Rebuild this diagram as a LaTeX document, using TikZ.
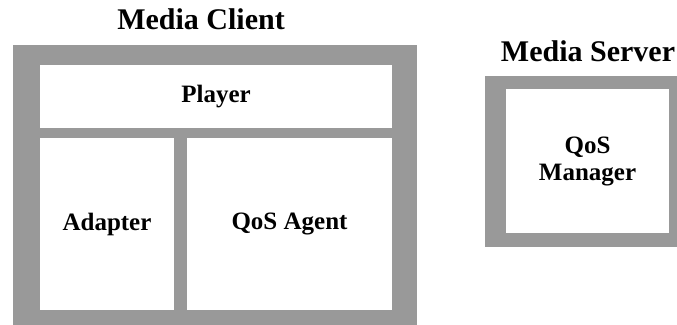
\documentclass[tikz,border=0pt]{standalone}
\usepackage{fontspec}
\setmainfont{Liberation Serif}
\usetikzlibrary{positioning}

\tikzset{
    frame/.style={fill=black!40, draw=none},
    part/.style={fill=white, draw=none, rectangle, inner sep=0pt, align=center,
                 font=\fontsize{25}{27}\selectfont\bfseries},
    title/.style={font=\fontsize{30}{32}\selectfont\bfseries, inner sep=0pt, anchor=base}
}

\begin{document}
\begin{tikzpicture}[x=1pt,y=1pt]
    \useasboundingbox (0,0) rectangle (677,324);

    % Frames:
    % The gray boxes are plain filled rectangles
    \fill [frame] (13,-2) rectangle (417,279);
    \fill [frame] (485,77) rectangle (679,248);

    % Titles:
    \node [title] (client) at (201,294) {Media Client};
    \node [title] (server) at (588,262) {Media Server};

    % Parts:
    % White boxes are nodes with a fixed size, placed by their centre
    \node [part, minimum width=352pt, minimum height=63pt] (player)  at (216,227.5) {Player};
    \node [part, minimum width=134pt, minimum height=172pt] (adapter) at (107,100)   {Adapter};
    \node [part, minimum width=205pt, minimum height=172pt] (agent)   at (289.5,100) {QoS Agent};
    \node [part, minimum width=163pt, minimum height=144pt] (manager) at (587.5,163) {QoS\\Manager};
\end{tikzpicture}
\end{document}
